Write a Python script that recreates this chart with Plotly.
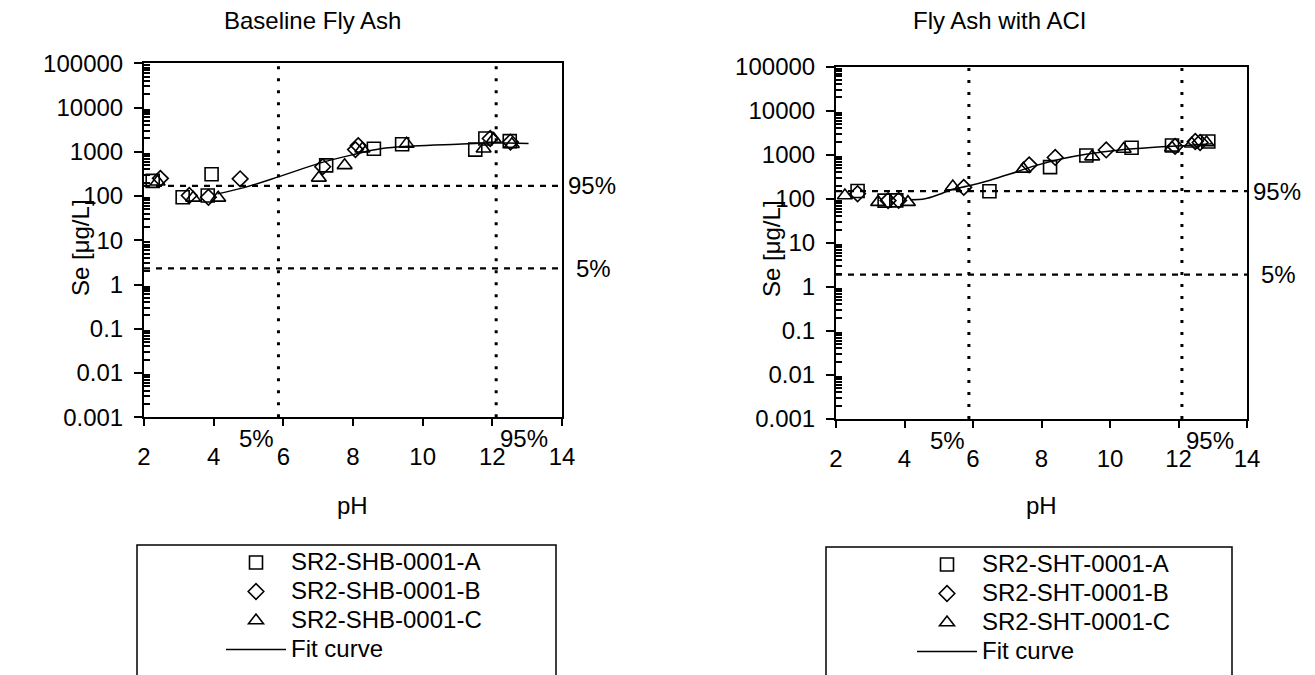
import math
import plotly.graph_objects as go

W, H = 1315, 675

# ---------------- data ----------------
# Baseline Fly Ash
base_A_ph = [2.25, 3.11, 3.83, 3.94, 7.23, 8.60, 9.41, 11.51, 11.80, 12.50]
base_A_se = [220, 94, 103, 311, 494, 1170, 1480, 1120, 2000, 1740]
base_B_ph = [2.47, 3.30, 3.85, 4.76, 7.13, 8.07, 8.15, 11.94, 12.52]
base_B_se = [251, 103, 94, 245, 460, 1120, 1380, 2000, 1660]
base_C_ph = [2.39, 3.41, 4.13, 7.02, 7.76, 8.27, 9.54, 11.75, 12.04, 12.56]
base_C_se = [211, 91, 91, 258, 494, 1170, 1510, 1170, 1950, 1480]
base_fit_ph = [4.11, 4.87, 5.88, 7.07, 8.03, 8.79, 9.74, 10.99, 11.94, 13.04]
base_fit_se = [112, 155, 275, 562, 871, 1170, 1350, 1480, 1580, 1540]
base_pct_ph = [5.86, 12.11]      # 5%, 95% pH
base_pct_se = [2.33, 169]        # 5%, 95% Se

# Fly Ash with ACI
aci_A_ph = [2.63, 3.42, 3.76, 6.48, 8.25, 9.31, 10.63, 11.81, 12.87]
aci_A_se = [150, 91, 92, 148, 525, 960, 1440, 1620, 2000]
aci_B_ph = [2.63, 3.52, 3.83, 5.73, 7.64, 8.40, 9.89, 11.90, 12.49, 12.63]
aci_B_se = [130, 91, 92, 182, 590, 870, 1290, 1550, 2000, 1900]
aci_C_ph = [2.26, 3.23, 4.10, 5.41, 7.47, 9.48, 10.40, 11.81, 12.39, 12.82]
aci_C_se = [119, 84, 84, 190, 478, 910, 1350, 1440, 1780, 1900]
aci_fit_ph = [4.17, 4.6, 5.0, 5.4, 5.85, 6.5, 7.1, 7.8, 8.6, 9.3, 10.3, 11.3, 12.2, 13.0]
aci_fit_se = [95, 100, 125, 165, 195, 265, 370, 560, 810, 1030, 1290, 1480, 1620, 1780]
aci_pct_ph = [5.88, 12.10]
aci_pct_se = [1.9, 150]

pct_labels = ["5%", "95%"]
y_tickvals = [0.001, 0.01, 0.1, 1, 10, 100, 1000, 10000, 100000]
y_ticktext = ["0.001", "0.01", "0.1", "1", "10", "100", "1000", "10000", "100000"]
x_tickvals = [2, 4, 6, 8, 10, 12, 14]

titles = ["Baseline Fly Ash", "Fly Ash with ACI"]
names_base = ["SR2-SHB-0001-A", "SR2-SHB-0001-B", "SR2-SHB-0001-C", "Fit curve"]
names_aci = ["SR2-SHT-0001-A", "SR2-SHT-0001-B", "SR2-SHT-0001-C", "Fit curve"]

FONT = "Arial, Liberation Sans, sans-serif"


def px(x):
    return x / W


def py(y):
    return 1 - y / H


fig = go.Figure()

symbols = ["square-open", "diamond-open", "triangle-up-open"]
sizes = [13, 12, 13]


def legend_text(name):
    return f'<span style="font-size:24px">{name}</span>'


def add_panel(xa, ya, legend, series, fit, names, pct_ph, pct_se):
    for i, (xs, ys) in enumerate(series):
        fig.add_trace(go.Scatter(
            x=xs, y=ys, mode="markers", name=legend_text(names[i]),
            marker=dict(symbol=symbols[i], size=sizes[i], color="black",
                        line=dict(color="black", width=1.6)),
            xaxis=xa, yaxis=ya, legend=legend, cliponaxis=False))
    fig.add_trace(go.Scatter(
        x=fit[0], y=fit[1], mode="lines", name=legend_text(names[3]),
        line=dict(color="black", width=1.5), line_shape="spline",
        xaxis=xa, yaxis=ya, legend=legend))
    # percentile reference lines
    for v in pct_ph:
        fig.add_trace(go.Scatter(
            x=[v, v], y=[y_tickvals[0], y_tickvals[-1]], mode="lines",
            line=dict(color="black", width=3, dash="3px,9px"),
            showlegend=False, hoverinfo="skip", xaxis=xa, yaxis=ya))
    for h in pct_se:
        fig.add_trace(go.Scatter(
            x=[x_tickvals[0], x_tickvals[-1]], y=[h, h], mode="lines",
            line=dict(color="black", width=2.2, dash="6px,6px"),
            showlegend=False, hoverinfo="skip", xaxis=xa, yaxis=ya))


add_panel("x", "y", "legend",
          [(base_A_ph, base_A_se), (base_B_ph, base_B_se), (base_C_ph, base_C_se)],
          (base_fit_ph, base_fit_se), names_base, base_pct_ph, base_pct_se)
add_panel("x2", "y2", "legend2",
          [(aci_A_ph, aci_A_se), (aci_B_ph, aci_B_se), (aci_C_ph, aci_C_se)],
          (aci_fit_ph, aci_fit_se), names_aci, aci_pct_ph, aci_pct_se)

minor_vals = [m * 10 ** k for k in range(-3, 5) for m in range(2, 10)]

xaxis_common = dict(
    range=[2, 14], tickmode="array", tickvals=x_tickvals,
    ticks="outside", ticklen=7, tickwidth=2, tickcolor="black",
    showline=True, linecolor="black", linewidth=2, mirror=True,
    showgrid=False, zeroline=False, ticklabelstandoff=10, automargin=False,
    tickfont=dict(size=24, family=FONT, color="black"),
)
yaxis_common = dict(
    type="log", range=[-3, 5], tickmode="array",
    tickvals=y_tickvals, ticktext=y_ticktext,
    ticks="outside", ticklen=8, tickwidth=2, tickcolor="black",
    showline=True, linecolor="black", linewidth=2, mirror=True,
    showgrid=False, zeroline=False, ticklabelstandoff=6, automargin=False,
    tickfont=dict(size=24, family=FONT, color="black"),
    minor=dict(tickmode="array", tickvals=minor_vals, ticks="inside",
               ticklen=6, tickwidth=1.5, tickcolor="black", showgrid=False),
)

legend_common = dict(
    xanchor="left", yanchor="top", bgcolor="rgba(0,0,0,0)",
    font=dict(size=20, family=FONT, color="black"),
    itemwidth=60, tracegroupgap=0, borderwidth=0,
)

fig.update_layout(
    width=W, height=H, margin=dict(l=0, r=0, t=0, b=0, autoexpand=False),
    paper_bgcolor="white", plot_bgcolor="white",
    font=dict(family=FONT, color="black", size=24),
    xaxis=dict(domain=[px(144), px(562)], anchor="y", **xaxis_common),
    yaxis=dict(domain=[py(417.3), py(63.3)], anchor="x", **yaxis_common),
    xaxis2=dict(domain=[px(836), px(1247)], anchor="y2", **xaxis_common),
    yaxis2=dict(domain=[py(419), py(66.7)], anchor="x2", **yaxis_common),
    legend=dict(x=px(221), y=py(543), **legend_common),
    legend2=dict(x=px(912), y=py(545), **legend_common),
    showlegend=True,
)

# legend frames
fig.add_shape(type="rect", xref="paper", yref="paper",
              x0=px(137), x1=px(556), y0=py(700), y1=py(545),
              line=dict(color="black", width=1.5))
fig.add_shape(type="rect", xref="paper", yref="paper",
              x0=px(826), x1=px(1232), y0=py(700), y1=py(547),
              line=dict(color="black", width=1.5))

ann = []
# panel titles
ann.append(dict(text=titles[0], x=px(312), y=py(21), xref="paper", yref="paper",
                xanchor="center", yanchor="middle",
                showarrow=False, font=dict(size=24)))
ann.append(dict(text=titles[1], x=px(1000), y=py(20), xref="paper", yref="paper",
                xanchor="center", yanchor="middle",
                showarrow=False, font=dict(size=24)))
# axis titles
for xc in [352, 1041]:
    ann.append(dict(text="pH", x=px(xc), y=py(505), xref="paper", yref="paper",
                    xanchor="center", yanchor="middle",
                    showarrow=False, font=dict(size=24)))
for xc in [80, 771]:
    ann.append(dict(text="Se [μg/L]", x=px(xc), y=py(248), xref="paper", yref="paper",
                    xanchor="center", yanchor="middle",
                    showarrow=False, textangle=-90, font=dict(size=24)))

# percentile labels
for xa, ya, pph, pse in [("x", "y", base_pct_ph, base_pct_se),
                         ("x2", "y2", aci_pct_ph, aci_pct_se)]:
    for lab, h in zip(pct_labels, pse):
        ann.append(dict(text=lab, xref=f"{xa} domain", x=1, yref=ya, y=math.log10(h),
                        xanchor="left", yanchor="middle",
                        xshift=4 if lab == "95%" else 12,
                        showarrow=False, font=dict(size=24)))
    for lab, v in zip(pct_labels, pph):
        ann.append(dict(text=lab, xref=xa, x=v, yref=f"{ya} domain", y=0,
                        xanchor="right" if lab == "5%" else "left",
                        yanchor="top", yshift=-6, xshift=-2 if lab == "5%" else 2,
                        showarrow=False, font=dict(size=24)))

fig.update_layout(annotations=ann)

fig.write_html("out.html")
